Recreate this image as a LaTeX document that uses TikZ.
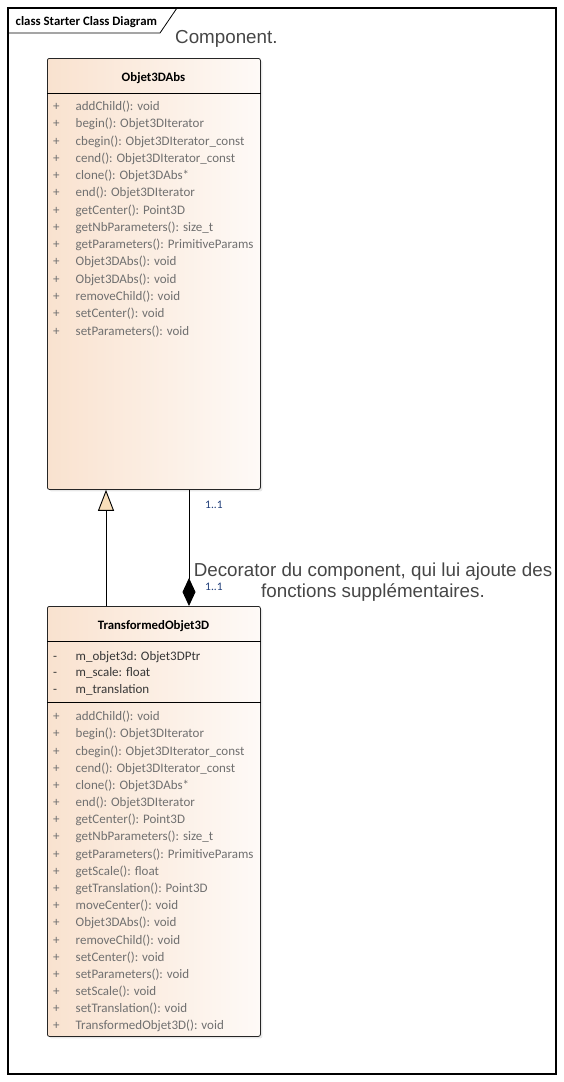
\documentclass[tikz,border=0pt]{standalone}
\usepackage{fontspec}
\setmainfont{Carlito}
\newfontfamily\notefont{Liberation Sans}
\usetikzlibrary{arrows.meta,shadows}
\definecolor{classpeach}{RGB}{249,226,207}
\definecolor{classwhite}{RGB}{254,250,247}
\definecolor{opgray}{RGB}{112,112,112}
\definecolor{attrgray}{RGB}{55,55,55}
\definecolor{notegray}{RGB}{70,70,70}
\definecolor{multblue}{RGB}{30,60,120}
\definecolor{trifill}{RGB}{248,222,186}
\tikzstyle{classbox}=[draw=black!85,line width=0.8pt,rounded corners=2pt,left color=classpeach,right color=classwhite,anchor=north west,minimum width=213pt,drop shadow={shadow xshift=2pt,shadow yshift=-2pt,opacity=0.18}]
\tikzstyle{classname}=[font=\fontsize{12.8}{15}\selectfont\bfseries,inner sep=0pt]
\tikzstyle{oprow}=[anchor=base west,inner sep=0pt,text=opgray]
\tikzstyle{attrrow}=[anchor=base west,inner sep=0pt,text=attrgray]
\tikzstyle{note}=[font=\notefont\fontsize{18.8}{21}\selectfont,text=notegray,align=center,inner sep=0pt]
\tikzstyle{mult}=[font=\fontsize{11.5}{13}\selectfont,text=multblue,anchor=base west,inner sep=0pt]
\tikzstyle{link}=[line width=0.9pt]
\newcommand{\vis}[2]{\makebox[22.5pt][l]{#1}#2}

\begin{document}
\begin{tikzpicture}[x=1pt,y=-1pt,font=\fontsize{13}{15}\selectfont]
    \useasboundingbox (0,0) rectangle (564,1082);
    % frame
    \draw[line width=1.2pt] (8,8) rectangle (556,1074);
    \draw[line width=0.8pt] (8,33) -- (160,33) -- (177,8);
    \node[classname,anchor=base west] (framelabel) at (15.5,25) {class Starter Class Diagram};
    \node[note,anchor=base west] (compnote) at (175,43.5) {Component.};
    % Objet3DAbs
    \node[classbox,minimum height=431pt] (abs) at (47,58) {};
    \node[classname] (abstitle) at (153.5,78) {Objet3DAbs};
    \draw[line width=0.8pt] (abs.west |- 0,93) -- (abs.east |- 0,93);
    \foreach \m [count=\i] in {addChild(): void,begin(): Objet3DIterator,
        cbegin(): Objet3DIterator\_const,cend(): Objet3DIterator\_const,
        clone(): Objet3DAbs*,end(): Objet3DIterator,getCenter(): Point3D,
        getNbParameters(): size\_t,getParameters(): PrimitiveParams,
        Objet3DAbs(): void,Objet3DAbs(): void,removeChild(): void,
        setCenter(): void,setParameters(): void}
        \node[oprow] (absop\i) at (53,{110.5+17.27*(\i-1)}) {\vis{+}{\m}};
    % TransformedObjet3D
    \node[classbox,minimum height=430pt] (trans) at (47,606) {};
    \node[classname] (transtitle) at (153.5,626) {TransformedObjet3D};
    \draw[line width=0.8pt] (trans.west |- 0,641) -- (trans.east |- 0,641);
    \draw[line width=0.8pt] (trans.west |- 0,702) -- (trans.east |- 0,702);
    \foreach \m [count=\i] in {m\_objet3d: Objet3DPtr,m\_scale: float,m\_translation}
        \node[attrrow] (transattr\i) at (53,{660+16.7*(\i-1)}) {\vis{-}{\m}};
    \foreach \m [count=\i] in {addChild(): void,begin(): Objet3DIterator,
        cbegin(): Objet3DIterator\_const,cend(): Objet3DIterator\_const,
        clone(): Objet3DAbs*,end(): Objet3DIterator,getCenter(): Point3D,
        getNbParameters(): size\_t,getParameters(): PrimitiveParams,
        getScale(): float,getTranslation(): Point3D,moveCenter(): void,
        Objet3DAbs(): void,removeChild(): void,setCenter(): void,
        setParameters(): void,setScale(): void,setTranslation(): void,
        TransformedObjet3D(): void}
        \node[oprow] (transop\i) at (53,{720.7+17.18*(\i-1)}) {\vis{+}{\m}};
    % links
    \coordinate (genx) at (106,0);
    \coordinate (compx) at (189,0);
    \draw[link,-{Triangle[open,length=21pt,width=16pt,fill=trifill]}] (trans.north -| genx) -- (abs.south -| genx);
    \draw[link,-{Diamond[length=28pt,width=13pt]}] (abs.south -| compx) -- (trans.north -| compx);
    \node[mult] (multabs) at (205,508.5) {1..1};
    \node[mult] (multtrans) at (205,590) {1..1};
    \node[note,anchor=north] (decnote) at (373,563) {Decorator du component, qui lui ajoute des\\fonctions supplémentaires.};
\end{tikzpicture}
\end{document}
